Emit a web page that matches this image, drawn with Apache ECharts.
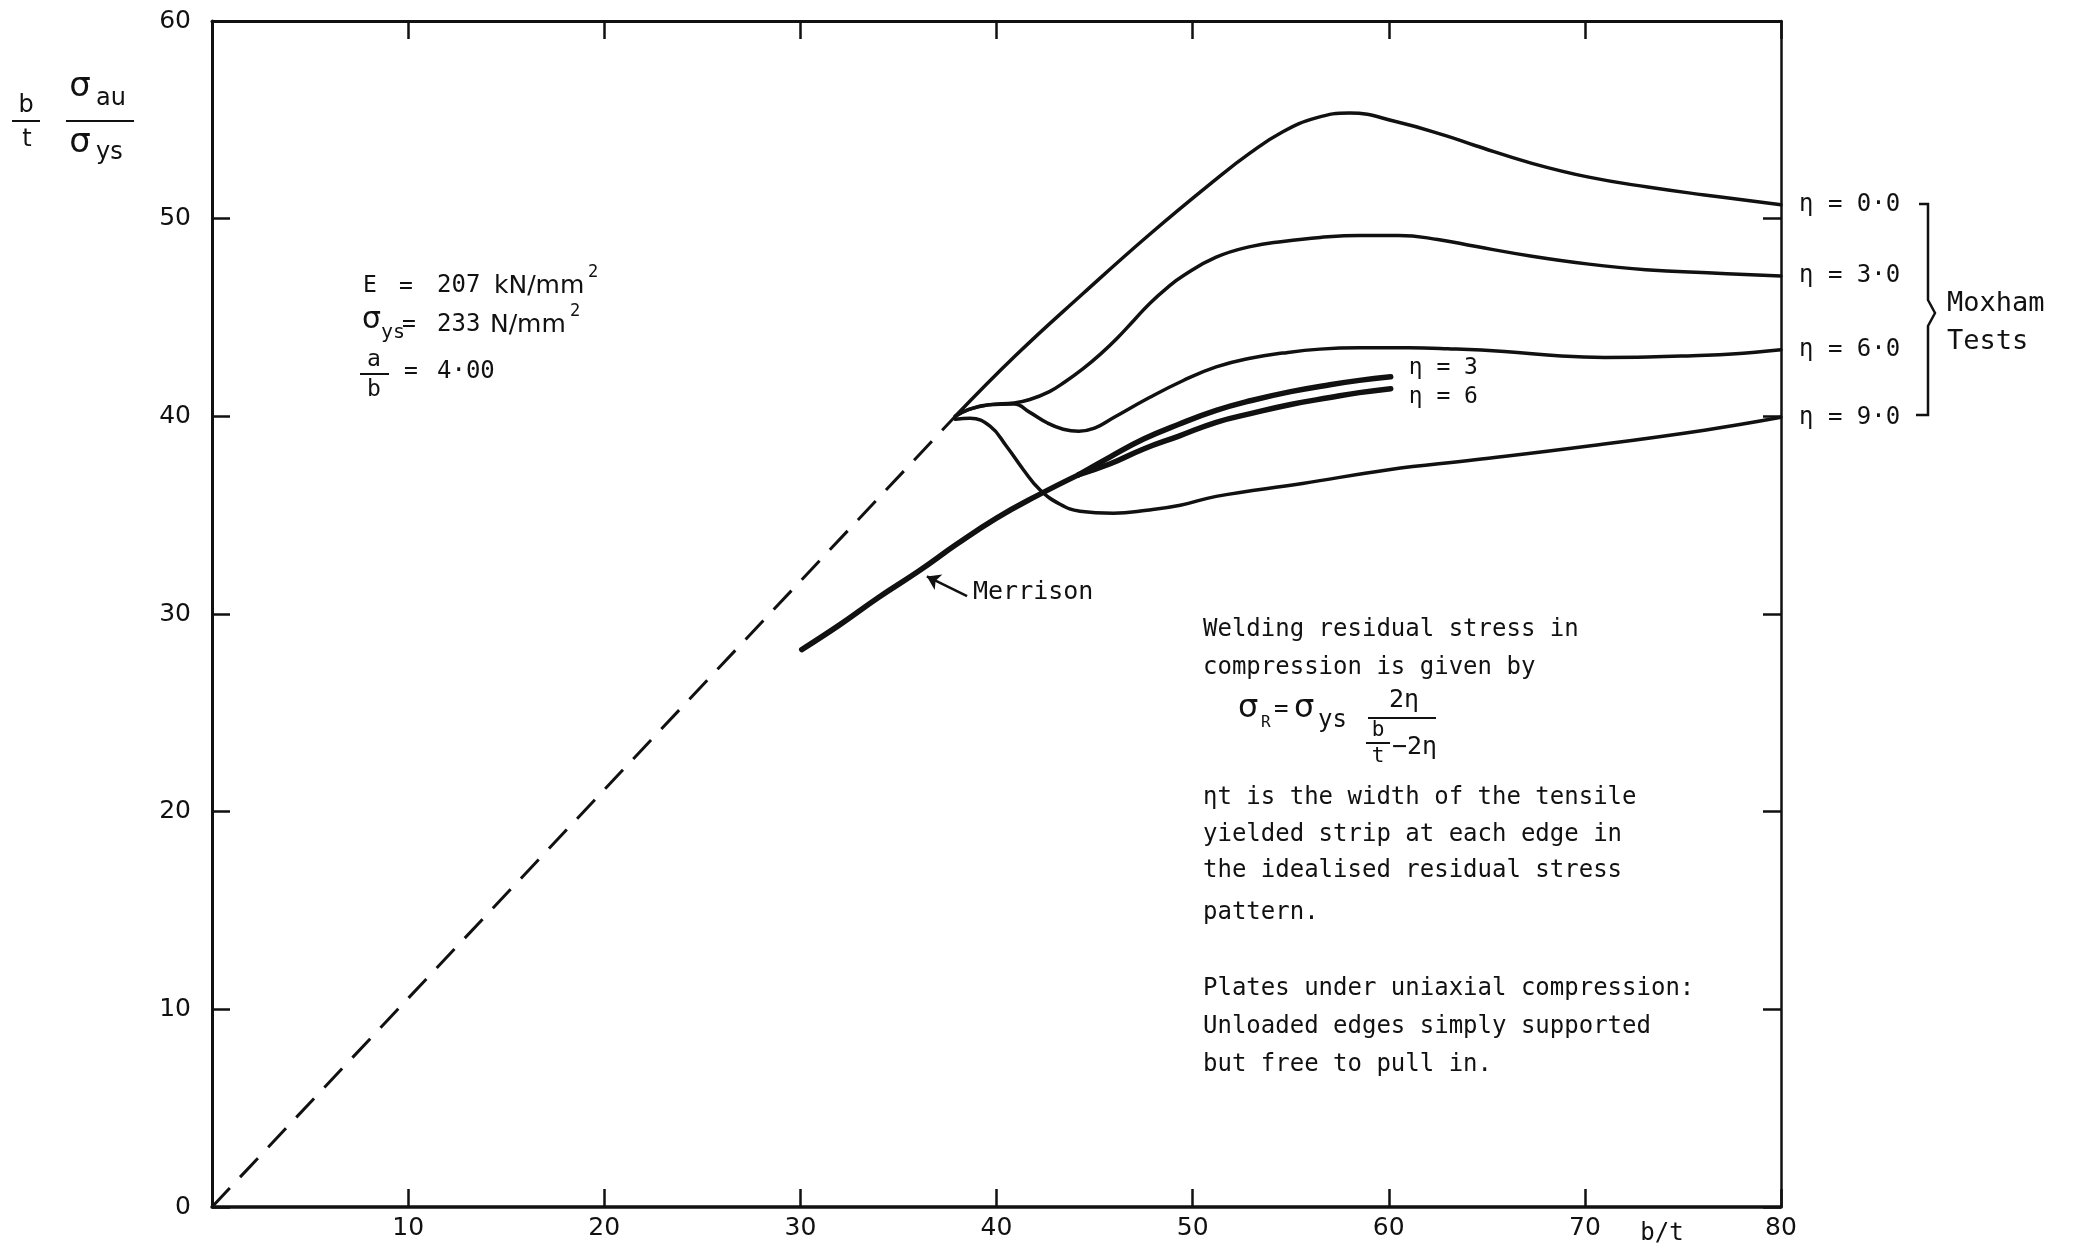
<!DOCTYPE html>
<html>
<head>
<meta charset="utf-8">
<script src="https://cdn.jsdelivr.net/npm/echarts@6/dist/echarts.min.js"></script>
<style>
  html, body { margin: 0; padding: 0; background: #fff; }
  #chart { width: 2082px; height: 1248px; }
</style>
</head>
<body>
<div id="chart"></div>
<script>
// Horizontal axis: plate slenderness b/t; vertical axis: (b/t)(σau/σys)
const xTicks = [0, 10, 20, 30, 40, 50, 60, 70, 80];
const yTicks = [0, 10, 20, 30, 40, 50, 60];

// Elastic (fully effective) line, dashed
const elastic = [[0, 0], [37.9, 40.0]];

// Moxham test curves for η = 0, 3, 6, 9
const moxham0 = [[37.9, 40.0], [41.0, 43.1], [44.4, 46.2], [47.8, 49.2], [51.2, 52.0], [52.9, 53.3],
  [54.6, 54.4], [56.3, 55.1], [58.0, 55.35], [60.4, 54.9], [62.9, 54.2], [64.4, 53.7], [67.3, 52.8],
  [70.2, 52.1], [73.2, 51.6], [76.1, 51.2], [80.0, 50.7]];
const moxham3 = [[37.9, 40.0], [38.6, 40.35], [39.6, 40.58], [40.9, 40.68], [41.7, 40.85], [42.7, 41.25],
  [43.5, 41.75], [44.4, 42.4], [45.3, 43.15], [46.1, 43.9], [47.0, 44.85], [47.8, 45.7], [48.7, 46.5],
  [49.5, 47.1], [51.2, 48.05], [53.0, 48.6], [54.6, 48.85], [56.5, 49.05], [58.5, 49.15], [60.5, 49.15],
  [62.5, 48.95], [64.4, 48.6], [67.3, 48.1], [70.2, 47.7], [73.1, 47.42], [76.5, 47.25], [80.0, 47.1]];
const moxham6 = [[37.9, 40.0], [38.6, 40.35], [39.6, 40.58], [40.9, 40.62], [41.7, 40.2], [42.6, 39.66],
  [43.4, 39.35], [44.2, 39.25], [45.0, 39.4], [46.0, 39.95], [47.8, 40.95], [49.5, 41.8], [51.2, 42.5],
  [53.0, 42.95], [54.6, 43.2], [56.5, 43.4], [58.5, 43.47], [61.0, 43.47], [63.0, 43.42], [65.9, 43.28],
  [68.8, 43.05], [71.0, 42.98], [73.2, 43.0], [75.5, 43.07], [77.5, 43.15], [80.0, 43.37]];
const moxham9 = [[37.9, 39.85], [38.65, 39.9], [39.67, 39.5], [40.5, 38.5], [41.37, 37.3], [42.2, 36.3],
  [43.24, 35.55], [44.26, 35.2], [45.96, 35.1], [47.67, 35.25], [49.37, 35.5], [51.2, 35.95], [55.6, 36.6],
  [60.0, 37.3], [64.4, 37.8], [70.2, 38.5], [76.1, 39.3], [80.0, 39.95]];

// Merrison curves: common lower part, then η = 3 and η = 6 branches
const merrison = [[30.07, 28.2], [32.0, 29.45], [34.0, 30.85], [36.0, 32.15], [38.0, 33.55],
  [40.0, 34.85], [42.0, 35.95], [44.2, 37.05]];
const merrison3 = [[44.2, 37.05], [45.8, 37.95], [47.5, 38.85], [49.3, 39.6], [51.2, 40.3], [53.0, 40.8],
  [55.0, 41.25], [57.0, 41.6], [58.5, 41.82], [60.1, 42.0]];
const merrison6 = [[44.2, 37.05], [45.8, 37.6], [47.5, 38.35], [49.3, 39.0], [51.2, 39.7], [53.0, 40.15],
  [55.0, 40.6], [57.0, 40.95], [58.5, 41.2], [60.1, 41.4]];

// Leader arrow pointing at the Merrison curve (tail, tip)
const merrisonArrow = [[38.5, 30.9], [36.45, 31.9]];

const INK = '#111';
const MONO = '"DejaVu Sans Mono", monospace';
const SANS = '"DejaVu Sans", sans-serif';

const chart = echarts.init(document.getElementById('chart'), null, { renderer: 'canvas' });

function curve(data, width, extra) {
  return Object.assign({
    type: 'line', data: data, smooth: 0.45, showSymbol: false, symbol: 'none', silent: true,
    lineStyle: { color: INK, width: width, cap: 'round', join: 'round' }, z: 3
  }, extra || {});
}

function moxLabel(text) {
  return { show: true, formatter: text, distance: 18, color: INK, fontFamily: MONO, fontSize: 24 };
}

const xMin = xTicks[0], xMax = xTicks[xTicks.length - 1], xStep = xTicks[1] - xTicks[0];
const yMin = yTicks[0], yMax = yTicks[yTicks.length - 1], yStep = yTicks[1] - yTicks[0];

const axisLine = (w) => ({ show: true, onZero: false, lineStyle: { color: INK, width: w } });
const tickIn = { show: true, inside: true, length: 18, lineStyle: { color: INK, width: 2.5 } };

function txt(text, x, y, size, opts) {
  opts = opts || {};
  return {
    type: 'text', x: x, y: y, silent: true, z: 10,
    style: {
      text: text, fill: INK,
      font: (size) + 'px ' + (opts.family || MONO),
      textAlign: opts.align || 'left',
      textVerticalAlign: 'middle'
    }
  };
}
function seg(x1, y1, x2, y2, w) {
  return { type: 'line', silent: true, z: 10, shape: { x1: x1, y1: y1, x2: x2, y2: y2 },
    style: { stroke: INK, lineWidth: w || 2 } };
}

const graphics = [
  // vertical axis title: (b/t)(σau/σys)
  txt('b', 26, 106, 24, { align: 'center', family: SANS }),
  seg(12, 121, 40, 121, 2),
  txt('t', 27, 140, 24, { align: 'center', family: SANS }),
  txt('σ', 80, 87, 34, { align: 'center', family: SANS }),
  txt('au', 96, 99, 24, { family: SANS }),
  seg(66, 121, 134, 121, 2),
  txt('σ', 80, 143, 34, { align: 'center', family: SANS }),
  txt('ys', 96, 153, 24, { family: SANS }),

  // material parameters
  txt('E', 363, 286, 23),
  txt('=', 399, 287, 23),
  txt('207', 437, 286, 24),
  txt('kN/mm', 494, 286, 25, { family: SANS }),
  txt('2', 588, 273, 17),
  txt('σ', 362, 320, 30, { family: SANS }),
  txt('ys', 381, 333, 20),
  txt('=', 402, 325, 23),
  txt('233', 437, 325, 24),
  txt('N/mm', 490, 325, 25, { family: SANS }),
  txt('2', 570, 312, 17),
  txt('a', 374, 360, 23, { align: 'center' }),
  seg(360, 374, 389, 374, 2),
  txt('b', 374, 390, 23, { align: 'center' }),
  txt('=', 404, 372, 23),
  txt('4·00', 437, 372, 24),

  // explanatory note
  txt('Welding residual stress in', 1203, 630, 24),
  txt('compression is given by', 1203, 668, 24),
  txt('σ', 1238, 709, 32, { family: SANS }),
  txt('R', 1261, 723, 16),
  txt('=', 1274, 710, 24),
  txt('σ', 1294, 709, 32, { family: SANS }),
  txt('ys', 1318, 721, 24),
  txt('2η', 1404, 700, 25, { align: 'center' }),
  seg(1368, 718, 1436, 718, 2),
  txt('b', 1378, 731, 21, { align: 'center' }),
  seg(1366, 743, 1390, 743, 2),
  txt('t', 1378, 757, 21, { align: 'center' }),
  txt('−2η', 1392, 747, 25),
  txt('ηt is the width of the tensile', 1203, 798, 24),
  txt('yielded strip at each edge in', 1203, 835, 24),
  txt('the idealised residual stress', 1203, 871, 24),
  txt('pattern.', 1203, 913, 24),
  txt('Plates under uniaxial compression:', 1203, 989, 24),
  txt('Unloaded edges simply supported', 1203, 1027, 24),
  txt('but free to pull in.', 1203, 1065, 24),

  // Merrison leader text
  txt('Merrison', 973, 592, 25),

  // brace grouping the Moxham test curves
  { type: 'polyline', silent: true, z: 10,
    shape: { points: [[1919, 204], [1928, 204], [1928, 300], [1935, 313], [1928, 326], [1928, 415], [1916, 415]] },
    style: { stroke: INK, lineWidth: 2.5, fill: null } },
  txt('Moxham', 1947, 304, 27),
  txt('Tests', 1947, 342, 27),

  // horizontal axis name
  txt('b/t', 1662, 1234, 24, { align: 'center' })
];

chart.setOption({
  animation: false,
  backgroundColor: '#fff',
  grid: { left: 212, right: 301, top: 21, bottom: 41, containLabel: false },
  xAxis: [
    { type: 'value', position: 'bottom', min: xMin, max: xMax, interval: xStep,
      axisLine: axisLine(3.5), axisTick: tickIn, splitLine: { show: false },
      axisLabel: { show: true, showMinLabel: false, margin: 9, color: INK, fontFamily: SANS, fontSize: 25 } },
    { type: 'value', position: 'top', min: xMin, max: xMax, interval: xStep,
      axisLine: axisLine(3), axisTick: tickIn, splitLine: { show: false }, axisLabel: { show: false } }
  ],
  yAxis: [
    { type: 'value', position: 'left', min: yMin, max: yMax, interval: yStep,
      axisLine: axisLine(3), axisTick: tickIn, splitLine: { show: false },
      axisLabel: { show: true, margin: 21, color: INK, fontFamily: SANS, fontSize: 25 } },
    { type: 'value', position: 'right', min: yMin, max: yMax, interval: yStep,
      axisLine: axisLine(2.5), axisTick: tickIn, splitLine: { show: false }, axisLabel: { show: false } }
  ],
  series: [
    curve(elastic, 3, { smooth: false, lineStyle: { color: INK, width: 3, type: [26, 15] } }),
    curve(moxham0, 3.5, { endLabel: moxLabel('η = 0·0') }),
    curve(moxham3, 3.5, { endLabel: moxLabel('η = 3·0') }),
    curve(moxham6, 3.5, { endLabel: moxLabel('η = 6·0') }),
    curve(moxham9, 3.5, { endLabel: moxLabel('η = 9·0') }),
    curve(merrison, 5.5, {
      markLine: {
        silent: true, animation: false, symbol: ['none', 'arrow'], symbolSize: 13,
        lineStyle: { color: INK, width: 2.5, type: 'solid' }, label: { show: false },
        data: [[{ coord: merrisonArrow[0] }, { coord: merrisonArrow[1] }]]
      }
    }),
    curve(merrison3, 5.5, { endLabel: Object.assign(moxLabel('η = 3'), { fontSize: 23, offset: [0, -9] }) }),
    curve(merrison6, 5.5, { endLabel: Object.assign(moxLabel('η = 6'), { fontSize: 23, offset: [0, 8] }) })
  ],
  graphic: { elements: graphics }
});
</script>
</body>
</html>
